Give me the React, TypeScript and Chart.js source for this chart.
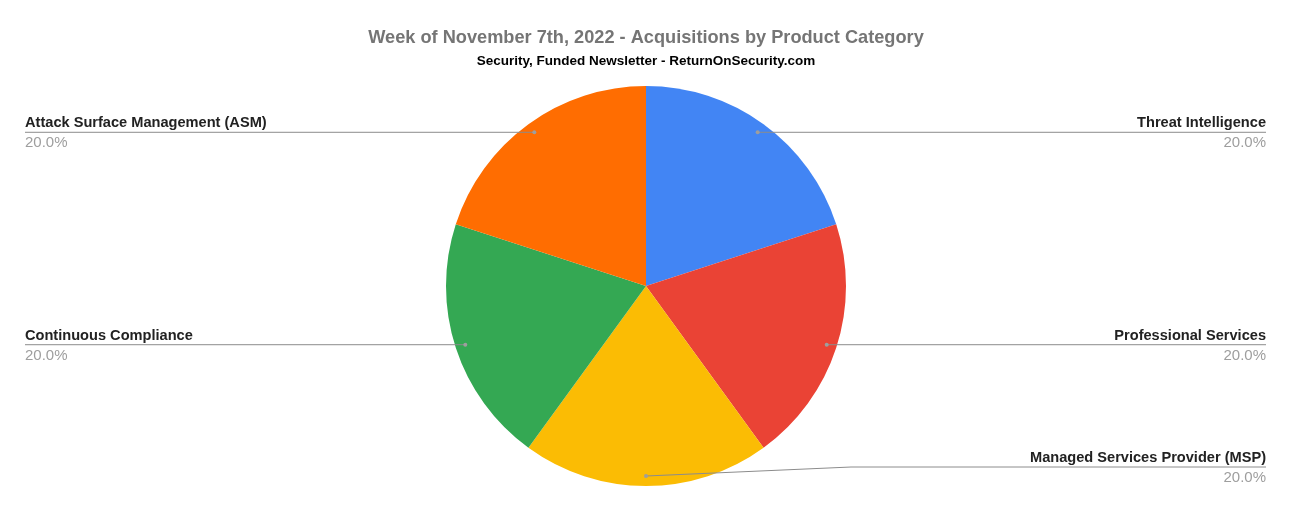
import React, { useEffect, useRef } from "react";
import { Chart, registerables } from "chart.js";

Chart.register(...registerables);

const categories = [
  "Threat Intelligence",
  "Professional Services",
  "Managed Services Provider (MSP)",
  "Continuous Compliance",
  "Attack Surface Management (ASM)",
];
const values = [1, 1, 1, 1, 1];
const colors = ["#4285F4", "#EA4335", "#FBBC04", "#34A853", "#FF6D01"];
const titleText = "Week of November 7th, 2022 - Acquisitions by Product Category";
const subtitleText = "Security, Funded Newsletter - ReturnOnSecurity.com";

const FONT = "'Liberation Sans', Arial, sans-serif";

const sideLabels = {
  id: "sideLabels",
  afterDatasetsDraw(chart: any) {
    const ctx = chart.ctx as CanvasRenderingContext2D;
    const meta = chart.getDatasetMeta(0);
    const total = values.reduce((a, b) => a + b, 0);
    const area = chart.chartArea;
    meta.data.forEach((arc: any, i: number) => {
      const { x, y, startAngle, endAngle, outerRadius } = arc.getProps(
        ["x", "y", "startAngle", "endAngle", "outerRadius"],
        true
      );
      const mid = (startAngle + endAngle) / 2;
      const dx = Math.cos(mid);
      const dy = Math.sin(mid);
      const px = x + dx * outerRadius * 0.95;
      const py = y + dy * outerRadius * 0.95;
      const right = dx > -1e-6;
      const lineY = Math.min(Math.max(py, area.top + 46), area.bottom - 19);
      const edgeX = right ? chart.width - 26 : 25;

      ctx.save();
      ctx.strokeStyle = "#8c8c8c";
      ctx.lineWidth = 1;
      ctx.beginPath();
      ctx.moveTo(px, py);
      if (Math.abs(lineY - py) > 0.5) {
        const bendX = right ? x + outerRadius + 5 : x - outerRadius - 5;
        ctx.lineTo(bendX, lineY);
      }
      ctx.lineTo(edgeX, lineY);
      ctx.stroke();

      ctx.fillStyle = "#9e9e9e";
      ctx.beginPath();
      ctx.arc(px, py, 2, 0, Math.PI * 2);
      ctx.fill();

      ctx.textAlign = right ? "right" : "left";
      ctx.textBaseline = "middle";
      ctx.fillStyle = "#222222";
      ctx.font = `bold 14.6px ${FONT}`;
      ctx.fillText(categories[i], edgeX, lineY - 9);
      ctx.fillStyle = "#9e9e9e";
      ctx.font = `15px ${FONT}`;
      const pct = ((values[i] / total) * 100).toFixed(1) + "%";
      ctx.fillText(pct, edgeX, lineY + 11);
      ctx.restore();
    });
  },
};

export default function App() {
  const ref = useRef<HTMLCanvasElement | null>(null);
  useEffect(() => {
    if (!ref.current) return;
    const chart = new Chart(ref.current, {
      type: "pie",
      data: {
        labels: categories,
        datasets: [
          {
            data: values,
            backgroundColor: colors,
            borderWidth: 0,
          },
        ],
      },
      options: {
        responsive: false,
        animation: false,
        layout: { padding: { top: 0, bottom: 26, left: 0, right: 0 } },
        plugins: {
          legend: { display: false },
          tooltip: { enabled: false },
          title: {
            display: true,
            text: titleText,
            color: "#757575",
            font: { family: FONT, size: 18.2, weight: "bold" },
            padding: { top: 27, bottom: 0 },
          },
          subtitle: {
            display: true,
            text: subtitleText,
            color: "#000000",
            font: { family: FONT, size: 13.5, weight: "bold" },
            padding: { top: 4.06, bottom: 16.9 },
          },
        },
      },
      plugins: [sideLabels],
    });
    return () => chart.destroy();
  }, []);
  return (
    <div style={{ position: "absolute", left: 0, top: 0, width: 1292, height: 512, background: "#fff" }}>
      <canvas ref={ref} width={1292} height={512} style={{ width: 1292, height: 512 }} />
    </div>
  );
}
